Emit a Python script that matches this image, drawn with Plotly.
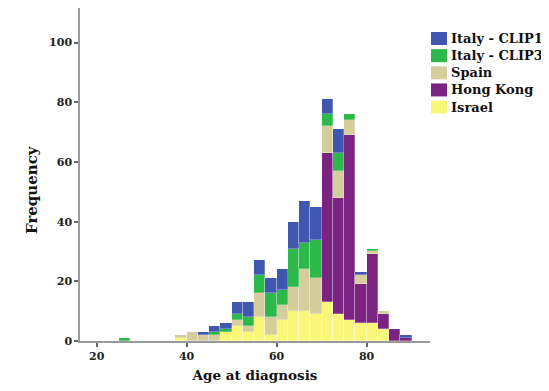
import plotly.graph_objects as go

# Bin start ages (bin width 2.5 years)
bin_starts = [25, 27.5, 30, 32.5, 35, 37.5, 40, 42.5, 45, 47.5, 50, 52.5, 55, 57.5,
              60, 62.5, 65, 67.5, 70, 72.5, 75, 77.5, 80, 82.5, 85, 87.5]
bin_width = 2.5

israel    = [0, 0, 0, 0, 0, 1, 0, 0, 0, 3, 5, 3, 8, 2, 7, 10, 10, 9, 13, 9, 7, 6, 6, 4, 0, 0]
hong_kong = [0, 0, 0, 0, 0, 0, 0, 0, 0, 0, 0, 0, 0, 0, 0, 0, 0, 0, 50, 39, 62, 13, 23, 5, 4, 1]
spain     = [0, 0, 0, 0, 0, 1, 3, 2, 2, 0, 2, 2, 8, 6, 5, 8, 14, 12, 9, 9, 5, 3, 1, 1, 0, 0]
clip3     = [1, 0, 0, 0, 0, 0, 0, 0, 1, 1, 2, 3, 6, 8, 5, 13, 9, 13, 4, 6, 2, 0, 1, 0, 0, 0]
clip1     = [0, 0, 0, 0, 0, 0, 0, 1, 2, 2, 4, 5, 5, 5, 7, 9, 14, 11, 5, 8, 0, 1, 0, 0, 0, 1]

# stacking order bottom -> top
series = [
    ("Israel", israel, "#FAF67A"),
    ("Hong Kong", hong_kong, "#7B2381"),
    ("Spain", spain, "#D5CE9C"),
    ("Italy - CLIP3", clip3, "#2DB84B"),
    ("Italy - CLIP1", clip1, "#3F57AE"),
]

x_ticks = [20, 40, 60, 80]
y_ticks = [0, 20, 40, 60, 80, 100]

FONT = "DejaVu Serif"

# figure geometry (page body has an 8px margin)
W, H = 541, 383
ML, MR, MT, MB = 72, 119, 0, 50
PW, PH = W - ML - MR, H - MT - MB


def px_to_paper(fx, fy):
    return (fx - ML) / PW, (MT + PH - fy) / PH


fig = go.Figure()
for name, vals, color in series:
    fig.add_trace(go.Bar(
        x=bin_starts, y=vals, name=name,
        width=bin_width, offset=0,
        marker=dict(color=color, line=dict(color="rgba(255,255,255,0.45)", width=0.6)),
        showlegend=False,
    ))

# hand-drawn legend (top item = top of stack)
shapes = []
annotations = []
for i, (name, vals, color) in enumerate(reversed(series)):
    cy = 30.5 + 17.15 * i
    x0, y0 = px_to_paper(423, cy + 6.5)
    x1, y1 = px_to_paper(439, cy - 6.5)
    shapes.append(dict(type="rect", xref="paper", yref="paper", x0=x0, y0=y0, x1=x1, y1=y1,
                       fillcolor=color, line=dict(width=0), layer="above"))
    tx, ty = px_to_paper(441, cy)
    annotations.append(dict(text=name, xref="paper", yref="paper", x=tx, y=ty,
                            xanchor="left", yanchor="middle", showarrow=False,
                            font=dict(family=FONT, size=13, color="#111111", weight="bold")))

fx, fy = px_to_paper(24, 182)
annotations.append(dict(
    text="Frequency", xref="paper", yref="paper", x=fx, y=fy,
    xanchor="center", yanchor="middle", textangle=-90, showarrow=False,
    font=dict(family=FONT, size=15, color="#111111", weight="bold"),
))

fig.update_layout(
    width=W, height=H,
    barmode="stack", bargap=0,
    plot_bgcolor="white", paper_bgcolor="white",
    margin=dict(l=ML, r=MR, t=MT, b=MB, autoexpand=False),
    font=dict(family=FONT, color="#222222", weight="bold"),
    showlegend=False,
    xaxis=dict(
        range=[16.3, 94.1], tickvals=x_ticks, ticktext=[str(v) for v in x_ticks],
        showgrid=False, zeroline=False,
        showline=True, linecolor="#9A9A9A", linewidth=1.5,
        ticks="outside", ticklen=4, tickwidth=1.5, tickcolor="#666666",
        tickfont=dict(family=FONT, size=11, color="#222222", weight="bold"),
        title=dict(text="Age at diagnosis", font=dict(family=FONT, size=13.5, color="#111111", weight="bold"),
                   standoff=9),
        automargin=False,
    ),
    yaxis=dict(
        range=[0, 111.6], tickvals=y_ticks, ticktext=[str(v) for v in y_ticks],
        showgrid=False, zeroline=False,
        showline=True, linecolor="#9A9A9A", linewidth=1.5,
        ticks="outside", ticklen=4, tickwidth=1.5, tickcolor="#666666",
        tickfont=dict(family=FONT, size=11, color="#222222", weight="bold"),
        automargin=False,
    ),
    shapes=shapes,
    annotations=annotations,
)

fig.write_html("out.html")
